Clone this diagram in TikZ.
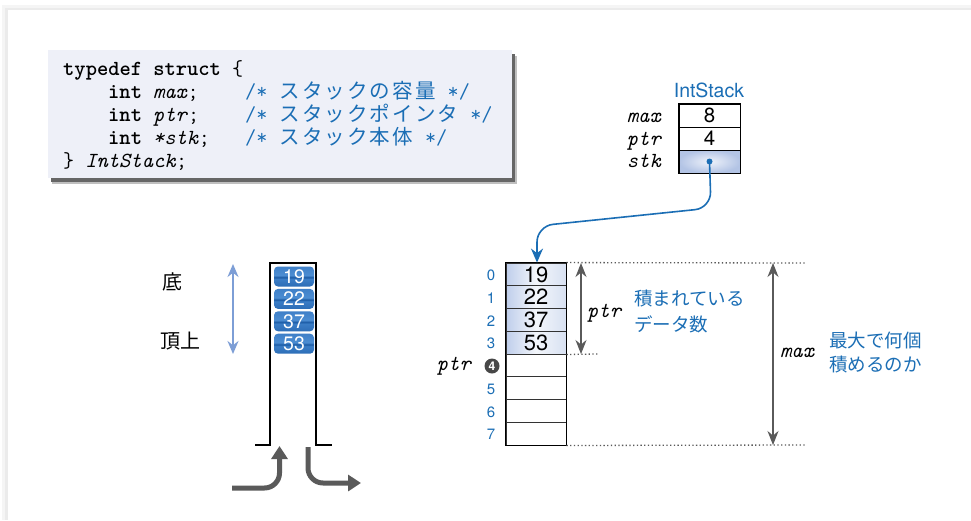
\documentclass[tikz,border=0pt]{standalone}
\usepackage{fontspec}
\usetikzlibrary{arrows.meta}
\newfontfamily\jpfont{Noto Sans CJK JP}
\newfontfamily\sansf{TeX Gyre Heros}
\definecolor{codeblue}{HTML}{1B6EB5}
\definecolor{codebg}{HTML}{EEF0F8}
\definecolor{agray}{HTML}{5A5A5A}
\definecolor{lblue}{HTML}{7D9ED6}
\definecolor{cellL}{HTML}{BFCEEB}
\definecolor{cellM}{HTML}{F3F6FB}
\definecolor{cellR}{HTML}{D8E1F2}
\definecolor{stkO}{HTML}{B3C4E5}
\definecolor{stkI}{HTML}{EEF2FA}
\definecolor{gbA}{HTML}{2C6DB6}
\definecolor{gbB}{HTML}{3B7DC6}
\definecolor{gbC}{HTML}{1A5AA4}
\definecolor{gbD}{HTML}{4C8DD2}
\definecolor{gbE}{HTML}{3F80C8}
% glossy blue for the stacked items (positions 25bp..75bp span the shape)
\pgfdeclareverticalshading{glossblue}{100bp}{color(0bp)=(gbA); color(25bp)=(gbA);
  color(44bp)=(gbB); color(48bp)=(gbC); color(53bp)=(gbD); color(75bp)=(gbE); color(100bp)=(gbE)}
% one full-width character occupies two typewriter columns
\newcommand\jc[1]{\makebox[22.6pt]{\jpfont\fontsize{20.5}{20.5}\selectfont #1}}
\begin{document}
\begin{tikzpicture}[x=1pt,y=-1pt,
  code/.style={anchor=base west,inner sep=0,font=\ttfamily\fontsize{21.5}{23}\selectfont},
  cmt/.style={code,text=codeblue},
  lbl/.style={anchor=base east,inner sep=0,font=\ttfamily\itshape\fontsize{21.5}{23}\selectfont},
  scell/.style={draw,line width=1pt,minimum width=61pt,minimum height=23pt,inner sep=0,
    font=\sansf\fontsize{20.5}{20.5}\selectfont},
  acell/.style={draw=black!80,line width=0.9pt,minimum width=60pt,minimum height=22.75pt,inner sep=0,
    font=\sansf\fontsize{22}{22}\selectfont},
  filled/.style={left color=cellL,right color=cellR,middle color=cellM},
  idx/.style={inner sep=0,text=codeblue,font=\sansf\fontsize{15}{15}\selectfont},
  jp/.style={anchor=base west,inner sep=0,text=codeblue,font=\jpfont\fontsize{18.5}{18.5}\selectfont},
  jpk/.style={anchor=base west,inner sep=0,font=\jpfont\fontsize{20}{20}\selectfont},
  item/.style={rounded corners=4pt,shading=glossblue,minimum width=40pt,minimum height=20pt,inner sep=0,
    text=white,font=\sansf\fontsize{19.5}{19.5}\selectfont},
  garrow/.style={draw=agray,line width=1.1pt,{Stealth[length=14pt,width=11pt]}-{Stealth[length=14pt,width=11pt]}},
  dots/.style={draw=agray,line width=1.3pt,dash pattern=on 1.3pt off 2.4pt},
  bigarrow/.style={draw=agray,line width=5pt,-{Triangle[length=13pt,width=16pt]},rounded corners=15pt}
]
\useasboundingbox (0,0) rectangle (971,520);
% panel with a faint edge shadow
\fill[white] (0,0) rectangle (971,520);
\fill[black!4] (2,5) rectangle (971,520);
\fill[black!8] (5,8) rectangle (971,520);
\fill[white] (8,10) rectangle (971,520);

% ---- structure declaration ----
\fill[black!25] (52,56) rectangle (517,184);
\fill[black!60] (51,54) rectangle (515,182);
\node[fill=codebg,anchor=north west,minimum width=464pt,minimum height=128pt,inner sep=0] (decl) at (48,50) {};
\node[code] (d1) at (63,75) {\textbf{typedef} \textbf{struct} \{};
\node[code] (d2) at (108,98) {\textbf{int} \textit{max};};
\node[code] (d3) at (108,121) {\textbf{int} \textit{ptr};};
\node[code] (d4) at (108,144) {\textbf{int} \textit{*stk};};
\node[code] (d5) at (63,167) {\} \textit{IntStack};};
\node[cmt] (c2) at (245,98) {/*~\jc{ス}\jc{タ}\jc{ッ}\jc{ク}\jc{の}\jc{容}\jc{量}~*/};
\node[cmt] (c3) at (245,121) {/*~\jc{ス}\jc{タ}\jc{ッ}\jc{ク}\jc{ポ}\jc{イ}\jc{ン}\jc{タ}~*/};
\node[cmt] (c4) at (245,144) {/*~\jc{ス}\jc{タ}\jc{ッ}\jc{ク}\jc{本}\jc{体}~*/};

% ---- IntStack object ----
\node[anchor=base,inner sep=0,text=codeblue,font=\sansf\fontsize{19.5}{19.5}\selectfont] (title) at (709,97) {IntStack};
\node[scell] (smax) at (709.5,115.5) {8};
\node[scell] (sptr) at (709.5,138.5) {4};
\node[scell,shading=radial,inner color=stkI,outer color=stkO] (sstk) at (709.5,161.5) {};
\draw[line width=1.5pt] (smax.north west) rectangle (sstk.south east);
\node[lbl] (lmax) at (661,122) {max};
\node[lbl] (lptr) at (661,145) {ptr};
\node[lbl] (lstk) at (661,167) {stk};

% ---- array ----
\foreach \v [count=\i from 0] in {19,22,37,53}
  \node[acell,filled] (a\i) at (536,274.4+22.75*\i) {\v};
\foreach \i in {4,...,7}
  \node[acell,fill=white] (a\i) at (536,274.4+22.75*\i) {};
\draw[line width=1.8pt] (a0.north west) rectangle (a7.south east);
\foreach \i in {0,1,2,3,5,6,7}
  \node[idx] (n\i) at (491,275.5+22.75*\i) {\i};
\node[circle,fill=black!72,text=white,inner sep=0,minimum size=15pt,
  font=\sansf\bfseries\fontsize{12}{12}\selectfont] (n4) at (492,366) {4};
\node[lbl] (aptr) at (471,370) {ptr};

% pointer from stk to the first element
\fill[codeblue] (sstk.center) circle (3pt);
\draw[codeblue,line width=1.6pt,rounded corners=16pt,-{Stealth[length=14pt,width=12pt]}]
  (sstk.center) -- (711,208) -- (537,226) -- (a0.north -| 537,0);

% extents
\coordinate (topR) at (805,263);
\coordinate (midR) at (598,354);
\coordinate (botR) at (805,445);
\draw[dots] (a0.north east) -- (topR);
\draw[dots] (a3.south east) -- (midR);
\draw[dots] (a7.south east) -- (botR);
\coordinate (pt1) at (581,263);
\coordinate (pt2) at (581,354);
\draw[garrow] (pt1) -- (pt2);
\coordinate (mx1) at (773,263);
\coordinate (mx2) at (773,445);
\draw[garrow] (mx1) -- (mx2);
\node[anchor=base west,inner sep=0,font=\ttfamily\itshape\fontsize{21.5}{23}\selectfont] (rptr) at (587,317) {ptr};
\node[anchor=base west,inner sep=0,font=\ttfamily\itshape\fontsize{21.5}{23}\selectfont] (rmax) at (780,357) {max};
\node[jp] (t1) at (634,305) {積まれている};
\node[jp] (t2) at (634,331) {データ数};
\node[jp] (t3) at (829,347) {最大で何個};
\node[jp] (t4) at (829,371) {積めるのか};

% ---- tube picture ----
\draw[line width=2pt] (255,445) -- (270,445) -- (270,263) -- (316,263) -- (316,445) -- (332,445);
\foreach \v [count=\i from 0] in {19,22,37,53}
  \node[item] (b\i) at (294,276.5+22.4*\i) {\v};
\coordinate (bl1) at (233,264);
\coordinate (bl2) at (233,354);
\draw[draw=lblue,line width=1.6pt,{Stealth[length=13pt,width=11pt]}-{Stealth[length=13pt,width=11pt]}] (bl1) -- (bl2);
\node[jpk] (bottomlbl) at (162,289) {底};
\node[jpk] (toplbl) at (160,348) {頂上};
\coordinate (in1) at (232,488);
\coordinate (in2) at (279.5,488);
\coordinate (in3) at (279.5,446);
\draw[bigarrow] (in1) -- (in2) -- (in3);
\coordinate (out1) at (308,447);
\coordinate (out2) at (308,483);
\coordinate (out3) at (361,483);
\draw[bigarrow] (out1) -- (out2) -- (out3);
\end{tikzpicture}
\end{document}
